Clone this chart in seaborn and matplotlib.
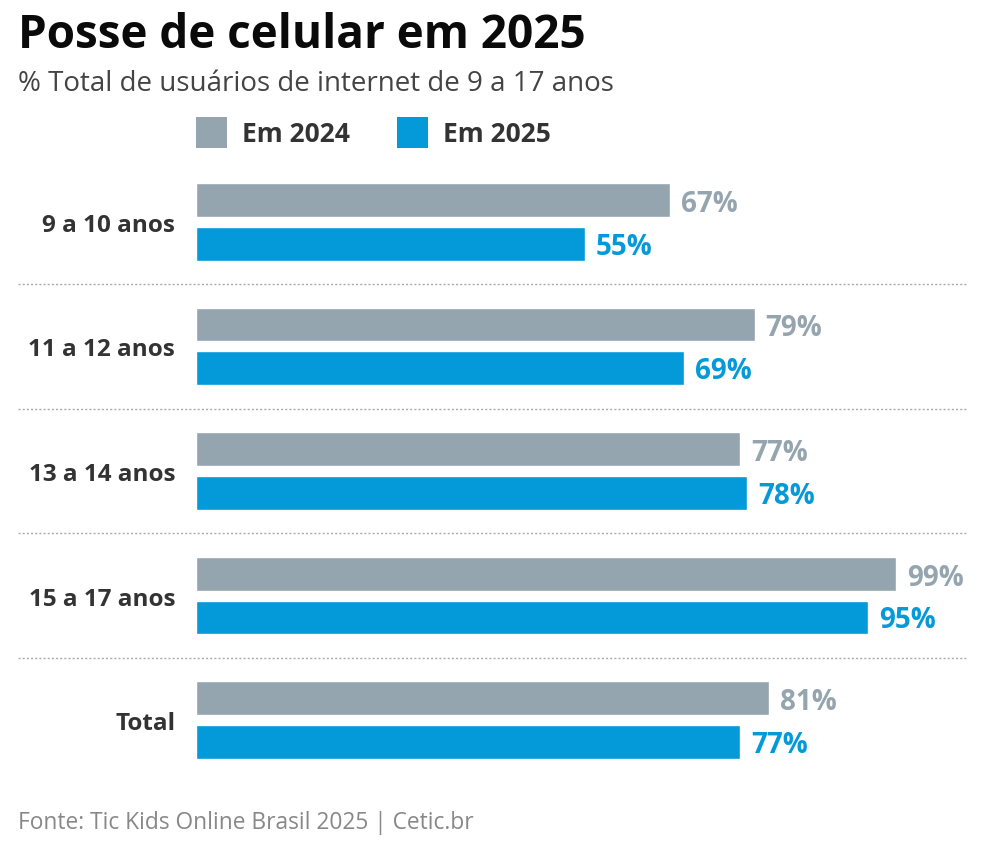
import numpy as np
import pandas as pd
import matplotlib
matplotlib.use('Agg')
import matplotlib.pyplot as plt
import seaborn as sns
from matplotlib.patches import Rectangle

# Dados
faixas = ['9 a 10 anos', '11 a 12 anos', '13 a 14 anos', '15 a 17 anos', 'Total']
em_2024 = [67, 79, 77, 99, 81]
em_2025 = [55, 69, 78, 95, 77]
series = ['Em 2024', 'Em 2025']

cor_cinza = '#95a5af'
cor_azul = '#0499d9'

df = pd.DataFrame({
    'faixa': faixas * 2,
    'valor': em_2024 + em_2025,
    'ano': [series[0]] * len(faixas) + [series[1]] * len(faixas),
})

sns.set_style('white')
plt.rcParams['font.family'] = ['Open Sans', 'DejaVu Sans']

W, H = 984, 845
fig = plt.figure(figsize=(W / 100, H / 100), dpi=100)

# eixo: de x=196px ate a borda direita, y de 160px a 770px
ax = fig.add_axes([196 / W, 1 - 770 / H, 1 - 196 / W, (770 - 160) / H])

sns.barplot(data=df, y='faixa', x='valor', hue='ano', order=faixas,
            hue_order=series, palette=[cor_cinza, cor_azul], orient='h',
            width=0.706, gap=0.227, saturation=1, ax=ax, legend=False)

ax.set_xlim(0, 100 * (W - 196) / 707)
ax.set_ylim(4 + 49 / 124.6, -63 / 124.6)

for cont, cor, desl in zip(ax.containers, [cor_cinza, cor_azul], [-2.5, -1.5]):
    rotulos = ax.bar_label(cont, fmt='{:.0f}%', padding=8, color=cor,
                           fontsize=20, fontweight='bold')
    for r in rotulos:
        r.xyann = (8, desl)

for lado in ['top', 'right', 'bottom', 'left']:
    ax.spines[lado].set_visible(False)
ax.set_xticks([])
ax.set_xlabel('')
ax.set_ylabel('')
ax.tick_params(axis='y', length=0, pad=15)
for t in ax.get_yticklabels():
    t.set_fontsize(17.5)
    t.set_fontweight('bold')
    t.set_color('#333333')

# separadores pontilhados
for yy in [0.5, 1.5, 2.5, 3.5]:
    ax.axhline(yy, xmin=(18 - 196) / (W - 196), xmax=(966 - 196) / (W - 196),
               color='#aaaaaa', linestyle=(0, (1.5, 1.5)), linewidth=1,
               clip_on=False)

# titulo e subtitulo
fig.text(18 / W, 1 - 48 / H, 'Posse de celular em 2025', fontsize=33,
         fontweight='bold', color='#0a0a0a', va='baseline', ha='left')
fig.text(18 / W, 1 - 91 / H, '% Total de usuários de internet de 9 a 17 anos',
         fontsize=20, color='#444444', va='baseline', ha='left')

# legenda
for x0, cor, rotulo in [(196, cor_cinza, series[0]), (397, cor_azul, series[1])]:
    fig.add_artist(Rectangle((x0 / W, 1 - 149 / H), 31 / W, 31 / H,
                             transform=fig.transFigure, color=cor, lw=0))
    fig.text((x0 + 46) / W, 1 - 134 / H, rotulo, fontsize=19,
             fontweight='bold', color='#333333', va='center', ha='left')

# fonte
fig.text(18 / W, 1 - 829 / H, 'Fonte: Tic Kids Online Brasil 2025 | Cetic.br',
         fontsize=16.4, color='#888888', va='baseline', ha='left')

fig.savefig('out.png', dpi=100, facecolor='white')
